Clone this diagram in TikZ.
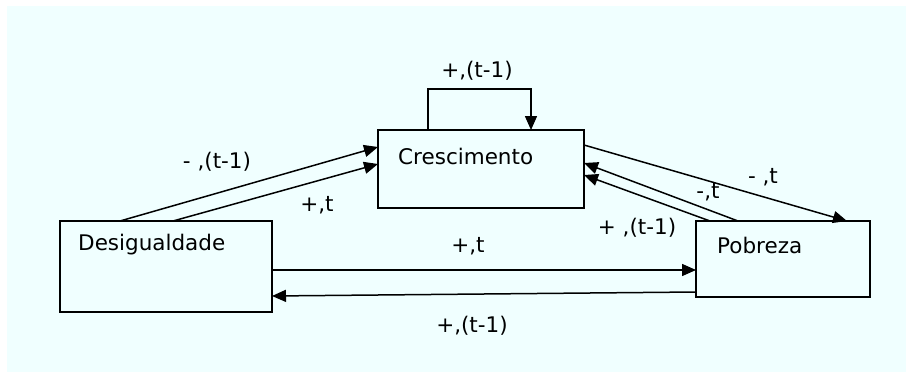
\documentclass[tikz,border=0pt]{standalone}
\usepackage{fontspec}
\setmainfont{DejaVu Sans}
\usetikzlibrary{arrows.meta,calc}
\definecolor{bgc}{RGB}{240,255,255}
\begin{document}
\begin{tikzpicture}[x=1pt,y=-1pt,
  box/.style={draw=black,line width=1.5pt,inner sep=0pt,fill=bgc},
  txt/.style={font=\fontsize{21.5}{23}\selectfont,inner sep=0pt},
  lbl/.style={font=\fontsize{21.5}{23}\selectfont,inner sep=0pt},
  conn/.style={line width=1.5pt,-{Triangle[length=14pt,width=12pt]}}]
\useasboundingbox (0,0) rectangle (906,372);
\fill[white] (0,0) rectangle (906,372);
\fill[bgc] (7,6) rectangle (906,372);
% boxes
\node[box,minimum width=206pt,minimum height=78pt] (cres) at (481,169) {};
\node[box,minimum width=212pt,minimum height=91pt] (des) at (166,266.5) {};
\node[box,minimum width=174pt,minimum height=76pt] (pob) at (783,259) {};
\node[txt,anchor=west] (tcres) at (398,156) {Crescimento};
\node[txt,anchor=west] (tdes) at (78,245) {Desigualdade};
\node[txt,anchor=west] (tpob) at (717,245) {Pobreza};
% coordinates
\coordinate (d1) at (120,221);
\coordinate (d2) at (173,221);
\coordinate (c1) at (378,147);
\coordinate (c2) at (378,164);
\coordinate (c3) at (584,145);
\coordinate (c4) at (584,163);
\coordinate (c5) at (584,175);
\coordinate (p1) at (847,221);
\coordinate (p2) at (738,221);
\coordinate (p3) at (710,221);
\coordinate (d3) at (272,270);
\coordinate (p4) at (696,270);
\coordinate (p5) at (696,292);
\coordinate (d4) at (272,296);
\coordinate (l1) at (428,130);
\coordinate (l2) at (531,130);
% connectors
\draw[conn] (d1) -- (c1);
\draw[conn] (d2) -- (c2);
\draw[conn] (c3) -- (p1);
\draw[conn] (p2) -- (c4);
\draw[conn] (p3) -- (c5);
\draw[conn] (d3) -- (p4);
\draw[conn] (p5) -- (d4);
\draw[conn] (l1) |- (480,89) -| (l2);
% labels
\node[lbl] (a) at (477,71) {+,(t-1)};
\node[lbl] (b) at (217,162) {- ,(t-1)};
\node[lbl] (c) at (317,205) {+,t};
\node[lbl] (d) at (763,177) {- ,t};
\node[lbl] (e) at (708,192) {-,t};
\node[lbl] (f) at (637,228) {+ ,(t-1)};
\node[lbl] (g) at (468,246) {+,t};
\node[lbl] (h) at (472,326) {+,(t-1)};
\end{tikzpicture}
\end{document}
